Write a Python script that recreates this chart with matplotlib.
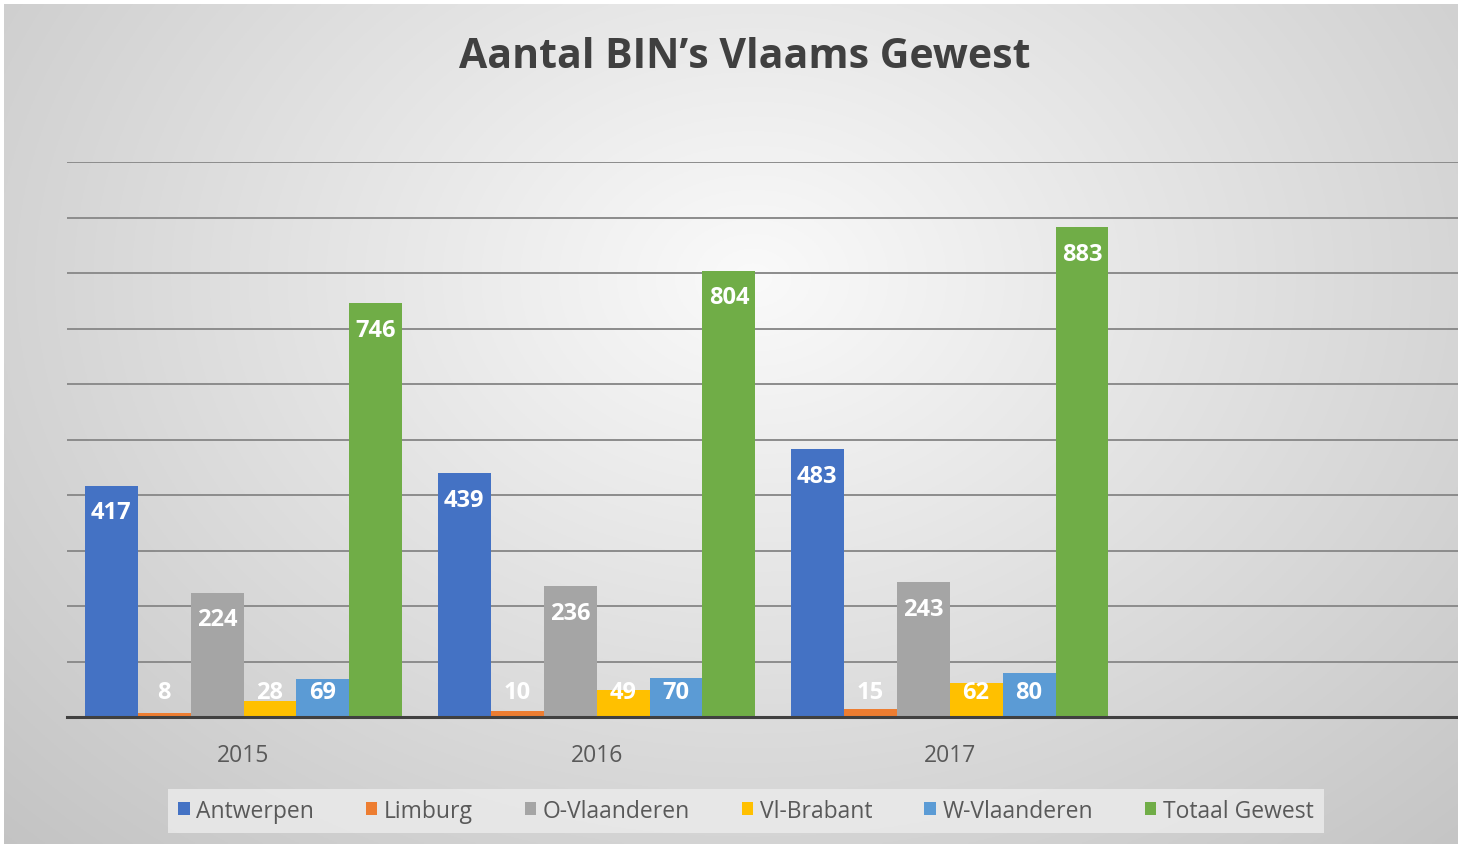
import numpy as np
import matplotlib.pyplot as plt
from matplotlib.patches import Patch

# Data
years = ["2015", "2016", "2017", ""]
series = ["Antwerpen", "Limburg", "O-Vlaanderen", "Vl-Brabant", "W-Vlaanderen", "Totaal Gewest"]
antwerpen = [417, 439, 483]
limburg = [8, 10, 15]
o_vlaanderen = [224, 236, 243]
vl_brabant = [28, 49, 62]
w_vlaanderen = [69, 70, 80]
totaal = [746, 804, 883]
values = [antwerpen, limburg, o_vlaanderen, vl_brabant, w_vlaanderen, totaal]
colors = ["#4472C4", "#ED7D31", "#A5A5A5", "#FFC000", "#5B9BD5", "#70AD47"]

plt.rcParams['font.family'] = ['Open Sans', 'DejaVu Sans']

W, H = 1458, 845
fig = plt.figure(figsize=(W / 100, H / 100), dpi=100)
fig.patch.set_facecolor("white")

# radial gradient background
bg = fig.add_axes([4 / W, 0, 1 - 4 / W, 1 - 5 / H], zorder=-10)
yy, xx = np.mgrid[0:400, 0:700]
d = np.sqrt(((xx - 360) / 560) ** 2 + ((yy - 130) / 420) ** 2)
g = np.clip(250 - 60 * d, 195, 250) / 255.0
img = np.dstack([g, g, g])
bg.imshow(img, aspect="auto", extent=[0, 1, 0, 1], origin="upper")
bg.axis("off")

ax = fig.add_axes([67 / W, (H - 718) / H, 1 - 67 / W, (718 - 163) / H])
ax.set_facecolor("none")

x = np.arange(3)
bw = 0.15
for i, (name, vals, c) in enumerate(zip(series, values, colors)):
    pos = x - 0.375 + i * bw
    ax.bar(pos, vals, width=bw, color=c, zorder=3, label=name)
    for p, v in zip(pos, vals):
        ax.text(p, max(v - 48, 45), str(v), ha="center", va="center",
                color="white", fontsize=17, fontweight="bold", zorder=4)

ax.set_xlim(-0.5, 3.44)
ax.set_ylim(0, 1000)
ax.set_yticks(np.arange(100, 1001, 100))
ax.yaxis.grid(True, color="#8c8c8c", linewidth=1.4, zorder=0)
ax.tick_params(axis="y", left=False, labelleft=False)
ax.set_xticks(np.arange(4))
ax.set_xticklabels(years, fontsize=16.5, color="#595959")
ax.tick_params(axis="x", length=0, pad=19)
for s in ["top", "right", "left"]:
    ax.spines[s].set_visible(False)
ax.spines["bottom"].set_color("#404040")
ax.spines["bottom"].set_linewidth(2.2)
ax.spines["bottom"].set_zorder(5)

fig.text(745 / W, 1 - 57 / H, "Aantal BIN\u2019s Vlaams Gewest", ha="center", va="center",
         fontsize=29.5, fontweight="bold", color="#404040")

handles = [Patch(facecolor=c, label=n) for n, c in zip(series, colors)]
leg = fig.legend(handles=handles, loc="center", bbox_to_anchor=(746 / W, 1 - 812 / H),
                 ncol=6, frameon=True, fontsize=16.5, handlelength=0.5, handleheight=0.5,
                 handletextpad=0.3, columnspacing=2.25, borderpad=0.45, borderaxespad=0,
                 fancybox=False)
leg.get_frame().set_facecolor("#ececec")
leg.get_frame().set_edgecolor("none")
leg.get_frame().set_alpha(0.8)
for t in leg.get_texts():
    t.set_color("#595959")

fig.savefig("out.png", dpi=100)
